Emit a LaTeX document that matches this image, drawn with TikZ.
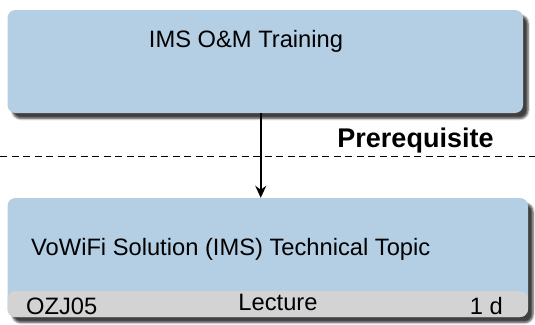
\documentclass[tikz,border=0pt]{standalone}
\usepackage{fontspec}
\setmainfont{Liberation Sans}
\usetikzlibrary{shadows.blur,arrows.meta}
\definecolor{boxblue}{HTML}{B4CEE3}
\definecolor{stripgray}{HTML}{D3D3D3}
\begin{document}
\begin{tikzpicture}[x=1pt,y=-1pt,
  course/.style={draw=none, fill=boxblue, rounded corners=8pt, inner sep=0pt,
    blur shadow={shadow xshift=5pt, shadow yshift=-5.5pt, shadow blur steps=5,
      shadow blur radius=2pt, shadow opacity=75}},
  txt/.style={inner sep=0pt, font=\fontsize{23.7}{28}\selectfont},
  bold/.style={inner sep=0pt, font=\fontsize{27}{32}\selectfont\bfseries},
  arr/.style={line width=1.6pt, -{Stealth[length=12pt,width=11pt]}},
  sep/.style={line width=1pt, dash pattern=on 7pt off 4.5pt}
]
\useasboundingbox (0,0) rectangle (535,324);

% prerequisite course
\node[course, minimum width=515.5pt, minimum height=103pt] (ims) at (265.25,61.5) {};
\node[txt, anchor=base] (imst) at (246,47.7) {IMS O\&M Training};

% target course with info strip
\node[course, minimum width=520.5pt, minimum height=119pt,
  path picture={\fill[stripgray] ([yshift=26pt]path picture bounding box.south west)
    rectangle (path picture bounding box.south east);}] (vowifi) at (267.75,257.5) {};
\node[txt, anchor=base west] (vowifit) at (31,255) {VoWiFi Solution (IMS) Technical Topic};
\node[txt, anchor=base west] (code) at (26,314) {OZJ05};
\node[txt, anchor=base] (kind) at (278,310) {Lecture};
\node[txt, anchor=base east] (days) at (503,314) {1 d};

% separator
\coordinate (sepL) at (0,156);
\coordinate (sepR) at (535,156);
\draw[sep] (sepL) -- (sepR);
\node[bold, anchor=base] (pre) at (415.5,147) {Prerequisite};

% dependency arrow
\draw[arr] ([xshift=-4.5pt]ims.south) -- ([xshift=-7pt]vowifi.north);
\end{tikzpicture}
\end{document}
